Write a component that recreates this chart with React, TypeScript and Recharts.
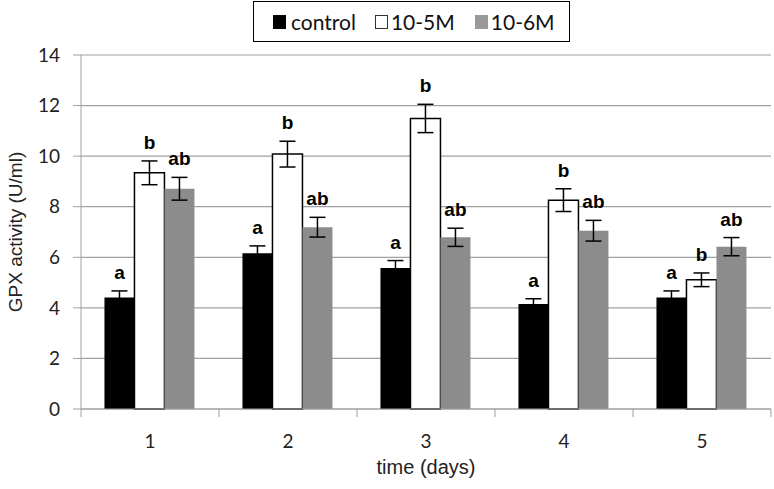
import { BarChart, Bar, XAxis, YAxis, CartesianGrid, ErrorBar, LabelList } from 'recharts';

const days = ['1', '2', '3', '4', '5'];
const control = [4.41, 6.16, 5.58, 4.15, 4.41];
const controlErr = [0.26, 0.29, 0.29, 0.21, 0.26];
const m5 = [9.34, 10.08, 11.49, 8.26, 5.11];
const m5Err = [0.47, 0.51, 0.56, 0.45, 0.27];
const m6 = [8.71, 7.19, 6.79, 7.05, 6.42];
const m6Err = [0.45, 0.39, 0.36, 0.41, 0.36];
const controlLetters = ['a', 'a', 'a', 'a', 'a'];
const m5Letters = ['b', 'b', 'b', 'b', 'b'];
const m6Letters = ['ab', 'ab', 'ab', 'ab', 'ab'];
const yTicks = [0, 2, 4, 6, 8, 10, 12, 14];

const data = days.map((d, i) => ({
    day: d,
    control: control[i], controlErr: controlErr[i],
    m5: m5[i], m5Err: m5Err[i],
    m6: m6[i], m6Err: m6Err[i],
}));

const W = 774;
const H = 489;
const TOP = 55;
const BOTTOM = 80;
const LEFT = 81;
const RIGHT = 3;
const plotH = H - TOP - BOTTOM;
const pxPerUnit = plotH / 14;
const band = (W - LEFT - RIGHT) / days.length;
const AXIS_GRAY = '#a0a0a0';
const FONT = 'Lato, "Open Sans", sans-serif';
const ARIAL = '"Liberation Sans", Arial, sans-serif';

function letterLabel(letters: string[], errs: number[]) {
    return (props: any) => {
        const { x, y, width, index } = props;
        const top = y - errs[index] * pxPerUnit;
        return (
            <text x={x + width / 2} y={top - 12} textAnchor="middle" fontFamily={ARIAL}
                fontWeight="bold" fontSize={19} fill="#000">
                {letters[index]}
            </text>
        );
    };
}

const DayTick = (props: any) => {
    const { x, y, payload, index } = props;
    const left = x - band / 2;
    const axisY = TOP + plotH;
    return (
        <g>
            <line x1={left} y1={axisY} x2={left} y2={axisY + 8} stroke={AXIS_GRAY} />
            {index === days.length - 1 && <line x1={left + band} y1={axisY} x2={left + band} y2={axisY + 8} stroke={AXIS_GRAY} />}
            <text x={x} y={axisY + 39} textAnchor="middle" fontFamily={FONT} fontSize={19} fill="#222">{payload.value}</text>
        </g>
    );
};

const YTitle = () => (
    <text x={15} y={232} transform="rotate(-90 15 232)" textAnchor="middle" dominantBaseline="central"
        fontFamily={ARIAL} fontSize={19} fill="#222">GPX activity (U/ml)</text>
);

const XTitle = () => (
    <text x={(LEFT + W - RIGHT) / 2} y={474} textAnchor="middle" fontFamily={ARIAL} fontSize={20} fill="#222">time (days)</text>
);

const sq = (bg: string, border?: boolean) => (
    <span style={{
        width: 13, height: 14, background: bg, display: 'inline-block', boxSizing: 'border-box',
        border: border ? '1.5px solid #333' : 'none',
    }}></span>
);

const LegendBox = () => (
    <div style={{
        position: 'absolute', top: 1, left: 253, width: 317, height: 41,
        border: '1.5px solid #000', display: 'flex', alignItems: 'center',
        boxSizing: 'border-box', fontFamily: FONT, fontSize: 21, color: '#111', background: '#fff',
        paddingLeft: 19,
    }}>
        {sq('#000')}<span style={{ marginLeft: 5 }}>control</span>
        <span style={{ marginLeft: 19, display: 'flex' }}>{sq('#fff', true)}</span><span style={{ marginLeft: 3 }}>10-5M</span>
        <span style={{ marginLeft: 20, display: 'flex' }}>{sq('#999')}</span><span style={{ marginLeft: 3 }}>10-6M</span>
    </div>
);

export default function App() {
    return (
        <div style={{ position: 'absolute', left: 0, top: 0, width: W, height: H, background: '#fff' }}>
            <BarChart width={W} height={H} data={data} margin={{ top: TOP, right: RIGHT, bottom: 0, left: 0 }}
                barCategoryGap="17%" barGap={0}>
                <CartesianGrid vertical={false} stroke={AXIS_GRAY} strokeWidth={1.2} />
                <XAxis dataKey="day" height={BOTTOM} tickLine={false} axisLine={{ stroke: AXIS_GRAY }} tick={<DayTick />} interval={0}
                    label={{ content: <XTitle /> }} />
                <YAxis width={LEFT} domain={[0, 14]} ticks={yTicks} interval={0} axisLine={{ stroke: AXIS_GRAY }}
                    tickLine={{ stroke: AXIS_GRAY }} tickSize={8} tickMargin={13}
                    tick={{ fontFamily: FONT, fontSize: 19, fill: '#222' }}
                    label={{ content: <YTitle /> }} />
                <Bar dataKey="control" fill="#000" isAnimationActive={false}>
                    <ErrorBar dataKey="controlErr" width={8} stroke="#000" strokeWidth={1.5} direction="y" />
                    <LabelList dataKey="control" content={letterLabel(controlLetters, controlErr)} />
                </Bar>
                <Bar dataKey="m5" fill="#fff" stroke="#000" strokeWidth={1.5} isAnimationActive={false}>
                    <ErrorBar dataKey="m5Err" width={8} stroke="#000" strokeWidth={1.5} direction="y" />
                    <LabelList dataKey="m5" content={letterLabel(m5Letters, m5Err)} />
                </Bar>
                <Bar dataKey="m6" fill="#8c8c8c" isAnimationActive={false}>
                    <ErrorBar dataKey="m6Err" width={8} stroke="#000" strokeWidth={1.5} direction="y" />
                    <LabelList dataKey="m6" content={letterLabel(m6Letters, m6Err)} />
                </Bar>
            </BarChart>
            <LegendBox />
        </div>
    );
}
